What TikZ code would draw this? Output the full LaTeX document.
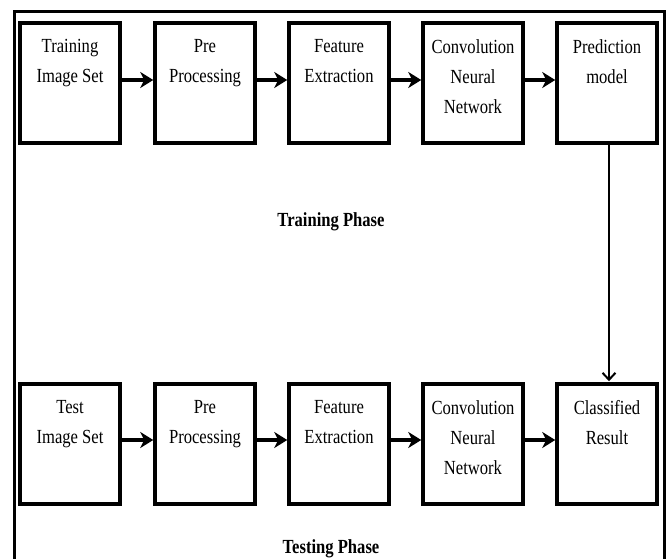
\documentclass[tikz,border=0pt]{standalone}
\usepackage{fontspec}
\setmainfont{Liberation Serif}[FakeStretch=0.83]
\usetikzlibrary{arrows.meta}
\begin{document}
\begin{tikzpicture}[x=1pt,y=1pt,
  stage/.style={draw, line width=3.5pt, minimum width=100pt, minimum height=120pt, inner sep=0pt},
  txt/.style={anchor=north, yshift=-18pt, align=center, inner sep=0pt, font=\fontsize{20}{30}\selectfont},
  phase/.style={inner sep=0pt, font=\fontsize{20}{24}\selectfont\bfseries},
  flow/.style={line width=3.5pt, -{Stealth[length=13pt,width=16pt,inset=4pt]}},
  link/.style={line width=2pt, -{Straight Barb[length=7pt,width=13pt]}},
  frame/.style={line width=3pt}]
\useasboundingbox (0,0) rectangle (672,-559);
\fill[white] (0,0) rectangle (672,-559);
% outer frame
\coordinate (fbl) at (14,-575);
\coordinate (ftl) at (14,-12);
\coordinate (ftr) at (664,-12);
\coordinate (fbr) at (664,-575);
\draw[frame] (fbl) -- (ftl) -- (ftr) -- (fbr);
% training row
\node[stage] (a1) at (70,-83) {};
\node[stage] (a2) at (205,-83) {};
\node[stage] (a3) at (339,-83) {};
\node[stage] (a4) at (473,-83) {};
\node[stage] (a5) at (607,-83) {};
\node[txt] (ta1) at (a1.north) {Training\\Image Set};
\node[txt] (ta2) at (a2.north) {Pre\\Processing};
\node[txt] (ta3) at (a3.north) {Feature\\Extraction};
\node[txt] (ta4) at (a4.north) {Convolution\\Neural\\Network};
\node[txt] (ta5) at (a5.north) {Prediction\\model};
% testing row
\node[stage] (b1) at (70,-444) {};
\node[stage] (b2) at (205,-444) {};
\node[stage] (b3) at (339,-444) {};
\node[stage] (b4) at (473,-444) {};
\node[stage] (b5) at (607,-444) {};
\node[txt] (tb1) at (b1.north) {Test\\Image Set};
\node[txt] (tb2) at (b2.north) {Pre\\Processing};
\node[txt] (tb3) at (b3.north) {Feature\\Extraction};
\node[txt] (tb4) at (b4.north) {Convolution\\Neural\\Network};
\node[txt] (tb5) at (b5.north) {Classified\\Result};
% arrows
\draw[flow] ([yshift=3pt]a1.east) -- ([yshift=3pt]a2.west);
\draw[flow] ([yshift=3pt]a2.east) -- ([yshift=3pt]a3.west);
\draw[flow] ([yshift=3pt]a3.east) -- ([yshift=3pt]a4.west);
\draw[flow] ([yshift=3pt]a4.east) -- ([yshift=3pt]a5.west);
\draw[flow] ([yshift=4pt]b1.east) -- ([yshift=4pt]b2.west);
\draw[flow] ([yshift=4pt]b2.east) -- ([yshift=4pt]b3.west);
\draw[flow] ([yshift=4pt]b3.east) -- ([yshift=4pt]b4.west);
\draw[flow] ([yshift=4pt]b4.east) -- ([yshift=4pt]b5.west);
\draw[link] ([xshift=2pt]a5.south) -- ([xshift=2pt,yshift=1pt]b5.north);
% phase labels
\node[phase] (p1) at (331,-222) {Training Phase};
\node[phase] (p2) at (331,-549) {Testing Phase};
\end{tikzpicture}
\end{document}
